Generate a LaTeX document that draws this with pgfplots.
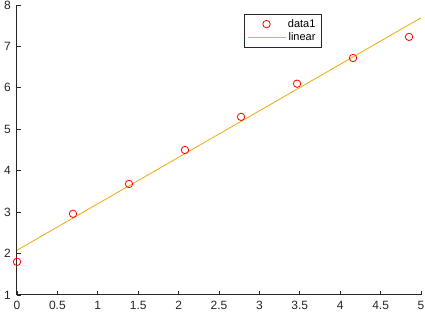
\documentclass[border=0pt]{standalone}
\usepackage{pgfplots}
\pgfplotsset{compat=1.18}
\usepackage{fontspec}
\setmainfont{Liberation Sans}
\definecolor{axgray}{HTML}{262626}
\definecolor{mlyellow}{HTML}{EDB120}
\pgfplotsset{
  linelegend/.style={legend image code/.code={\draw[##1] (0pt,0pt) -- (37pt,0pt);}},
  marklegend/.style={legend image code/.code={\draw[##1] plot coordinates {(18pt,0pt)};}},
}
\begin{document}
\begin{tikzpicture}[x=1pt,y=1pt]
\begin{axis}[
  name=ax,
  scale only axis,
  width=404pt, height=290pt,
  xmin=0, xmax=5, ymin=1, ymax=8,
  axis lines*=left,
  axis line style={axgray, line width=1pt},
  tick align=inside,
  major tick length=4pt,
  tick style={axgray, line width=0.8pt},
  xtick={0,0.5,...,5},
  ytick={1,2,...,8},
  /pgf/number format/assume math mode=true,
  ticklabel style={font=\fontsize{12}{14}\selectfont, text=axgray},
  xticklabel style={inner sep=0pt, anchor=north},
  yticklabel style={inner sep=0pt, anchor=east},
  xticklabel shift=6pt,
  yticklabel shift=6pt,
  legend cell align=right,
  legend style={at={(0.561,0.969)}, anchor=north west, draw=axgray, line width=0.8pt,
    font=\fontsize{11}{13}\selectfont, inner xsep=4pt, inner ysep=3pt, row sep=0pt,
    /tikz/every even column/.append style={column sep=8pt}},
]
\addplot[only marks, mark=o, mark size=3.7pt, red, line width=0.8pt, marklegend]
  coordinates {(0,1.80) (0.693,2.96) (1.386,3.68) (2.079,4.50) (2.773,5.30) (3.466,6.10) (4.159,6.72) (4.852,7.23)};
\addlegendentry{data1\hspace{10pt}}
\addplot[mlyellow, line width=0.9pt, no marks, linelegend] coordinates {(0,2.08) (5,7.69)};
\addlegendentry{linear}
\end{axis}
\pgfresetboundingbox
\useasboundingbox ([xshift=-17pt,yshift=-18pt]ax.south west) rectangle ([xshift=4pt,yshift=5pt]ax.north east);
\end{tikzpicture}
\end{document}
